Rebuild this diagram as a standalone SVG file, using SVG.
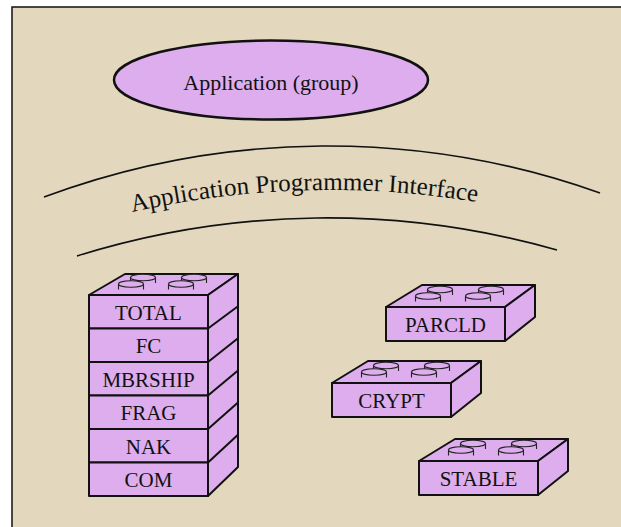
<svg xmlns="http://www.w3.org/2000/svg" xmlns:xlink="http://www.w3.org/1999/xlink" width="621" height="527" viewBox="0 0 621 527">
<style>
.face{fill:#DDADEE;stroke:#111;stroke-width:2;stroke-linejoin:round}
.studbody{fill:#DDADEE;stroke:none}
.studline{fill:none;stroke:#222;stroke-width:1.1}
.studtop{fill:#DDADEE;stroke:#222;stroke-width:1.1}
.lbl{font-family:"Liberation Serif","Times New Roman",serif;font-size:21px;fill:#111;text-anchor:middle}
.arc{fill:none;stroke:#111;stroke-width:1.6}
</style>
<defs>
<g id="stud">
<path class="studbody" d="M-12.5,0 L-12.5,5 L12.5,5 L12.5,0 Z"/>
<path class="studline" d="M-12.5,0 L-12.5,5.5 M12.5,0 L12.5,5.5"/>
<ellipse class="studtop" cx="0" cy="0" rx="12.5" ry="3.2"/>
</g>
<path id="apiPath" d="M100,219.9 A900,900 0 0 1 560,219.9"/>
</defs>
<rect x="0" y="0" width="621" height="527" fill="#ffffff"/>
<rect x="12" y="7" width="640" height="540" fill="#E3D7BD" stroke="#111" stroke-width="1.5"/>

<g id="application">
<ellipse cx="271" cy="80" rx="157" ry="39.5" fill="#DDADEE" stroke="#111" stroke-width="2.5"/>
<text x="271" y="90" font-family="'Liberation Serif','Times New Roman',serif" font-size="22" fill="#111" text-anchor="middle">Application (group)</text>
</g>

<g id="api">
<path class="arc" d="M44,197 A813,813 0 0 1 600,193"/>
<path class="arc" d="M77,256 A840,840 0 0 1 557,250"/>
<text font-family="'Liberation Serif','Times New Roman',serif" font-size="25" fill="#111" text-anchor="middle"><textPath xlink:href="#apiPath" href="#apiPath" startOffset="206.7" textLength="347" lengthAdjust="spacing">Application Programmer Interface</textPath></text>
</g>

<g id="stack">
<polygon class="face" points="89,295 208,295 238,274 125,274"/>
<polygon class="face" points="208,295 238,274 238,467 208,496"/>
<path class="face" d="M208,328.5 L238,306.2 M208,362 L238,338.3 M208,395.5 L238,370.5 M208,429 L238,402.6 M208,462.5 L238,434.8" fill="none"/>
<use href="#stud" xlink:href="#stud" x="143" y="277.5"/>
<use href="#stud" xlink:href="#stud" x="194" y="277.5"/>
<use href="#stud" xlink:href="#stud" x="131" y="284"/>
<use href="#stud" xlink:href="#stud" x="181" y="284"/>
<g id="total"><rect class="face" x="89" y="295" width="119" height="33.5"/><text class="lbl" x="148.5" y="319.5">TOTAL</text></g>
<g id="fc"><rect class="face" x="89" y="328.5" width="119" height="33.5"/><text class="lbl" x="148.5" y="353">FC</text></g>
<g id="mbrship"><rect class="face" x="89" y="362" width="119" height="33.5"/><text class="lbl" x="148.5" y="386.5">MBRSHIP</text></g>
<g id="frag"><rect class="face" x="89" y="395.5" width="119" height="33.5"/><text class="lbl" x="148.5" y="420">FRAG</text></g>
<g id="nak"><rect class="face" x="89" y="429" width="119" height="33.5"/><text class="lbl" x="148.5" y="453.5">NAK</text></g>
<g id="com"><rect class="face" x="89" y="462.5" width="119" height="33.5"/><text class="lbl" x="148.5" y="487">COM</text></g>
</g>

<g id="parcld">
<polygon class="face" points="386,307 505,307 535,285 422,285"/>
<polygon class="face" points="505,307 535,285 535,317 505,341"/>
<use href="#stud" xlink:href="#stud" x="440" y="289.5"/>
<use href="#stud" xlink:href="#stud" x="491" y="289.5"/>
<use href="#stud" xlink:href="#stud" x="428" y="296"/>
<use href="#stud" xlink:href="#stud" x="478" y="296"/>
<rect class="face" x="386" y="307" width="119" height="34"/>
<text class="lbl" x="445.5" y="331.5">PARCLD</text>
</g>

<g id="crypt">
<polygon class="face" points="332,383 451,383 481,361 368,361"/>
<polygon class="face" points="451,383 481,361 481,393 451,417"/>
<use href="#stud" xlink:href="#stud" x="386" y="365.5"/>
<use href="#stud" xlink:href="#stud" x="437" y="365.5"/>
<use href="#stud" xlink:href="#stud" x="374" y="372"/>
<use href="#stud" xlink:href="#stud" x="424" y="372"/>
<rect class="face" x="332" y="383" width="119" height="34"/>
<text class="lbl" x="391.5" y="407.5">CRYPT</text>
</g>

<g id="stable">
<polygon class="face" points="419,461 538,461 568,439 455,439"/>
<polygon class="face" points="538,461 568,439 568,471 538,495"/>
<use href="#stud" xlink:href="#stud" x="473" y="443.5"/>
<use href="#stud" xlink:href="#stud" x="524" y="443.5"/>
<use href="#stud" xlink:href="#stud" x="461" y="450"/>
<use href="#stud" xlink:href="#stud" x="511" y="450"/>
<rect class="face" x="419" y="461" width="119" height="34"/>
<text class="lbl" x="478.5" y="485.5">STABLE</text>
</g>

<g id="connectors"/>
</svg>
